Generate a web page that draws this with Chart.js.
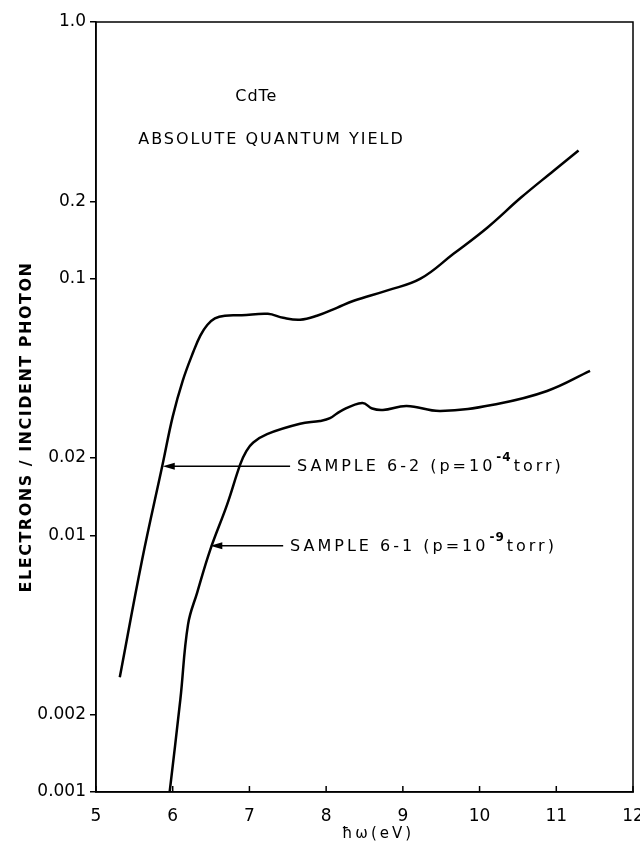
<!DOCTYPE html>
<html>
<head>
<meta charset="utf-8">
<script src="https://cdn.jsdelivr.net/npm/chart.js@4.4.0/dist/chart.umd.min.js"></script>
<style>
  html, body { margin: 0; padding: 0; background: #fff; }
  canvas { display: block; }
</style>
</head>
<body>
<canvas id="yieldChart" width="640" height="846"></canvas>
<script>
// Sample 6-2 (p = 1e-4 torr)
const energy62 = [5.31, 5.6, 5.87, 6.0, 6.13, 6.27, 6.36, 6.45, 6.55, 6.68, 6.9, 7.24, 7.44, 7.66, 7.88, 8.14, 8.36, 8.8, 9.23, 9.66, 10.1, 10.54, 10.97, 11.29];
const yield62 = [0.0028, 0.008, 0.019, 0.029, 0.040, 0.052, 0.060, 0.066, 0.070, 0.0717, 0.072, 0.073, 0.0704, 0.0692, 0.0717, 0.077, 0.082, 0.090, 0.100, 0.125, 0.158, 0.207, 0.264, 0.316];

// Sample 6-1 (p = 1e-9 torr)
const energy61 = [5.96, 6.1, 6.2, 6.32, 6.49, 6.71, 6.88, 6.96, 7.05, 7.23, 7.66, 7.92, 8.05, 8.19, 8.47, 8.6, 8.74, 9.05, 9.49, 10.23, 10.88, 11.44];
const yield61 = [0.001, 0.0023, 0.0045, 0.006, 0.0088, 0.0132, 0.0189, 0.0213, 0.023, 0.0248, 0.0272, 0.0279, 0.0286, 0.0305, 0.0328, 0.0312, 0.0308, 0.0319, 0.0305, 0.0325, 0.0365, 0.0437];

const xTicks = [5, 6, 7, 8, 9, 10, 11, 12];
const yTicks = [0.001, 0.002, 0.01, 0.02, 0.1, 0.2, 1.0];
const yTickLabels = ['0.001', '0.002', '0.01', '0.02', '0.1', '0.2', '1.0'];

const FONT = '"DejaVu Sans", sans-serif';

// labels with arrows, placed in data coordinates
const notes = [
    { text: 'SAMPLE 6-2 (p=10', sup: '-4', tail: 'torr)', tipX: 5.87, tipY: 0.0186, lineX: 7.53, textX: 7.62 },
    { text: 'SAMPLE 6-1 (p=10', sup: '-9', tail: 'torr)', tipX: 6.49, tipY: 0.0091, lineX: 7.44, textX: 7.53 }
];

const toPoints = (xs, ys) => xs.map((x, i) => ({ x: x, y: ys[i] }));

const frameAndText = {
    id: 'frameAndText',
    afterDraw(chart) {
        const { ctx, chartArea: a, scales: { x, y } } = chart;
        ctx.save();
        ctx.strokeStyle = '#000';
        ctx.fillStyle = '#000';
        ctx.lineWidth = 1.5;
        ctx.strokeRect(a.left, a.top, a.right - a.left, a.bottom - a.top);

        // inward ticks on the energy axis
        xTicks.forEach(v => {
            const px = x.getPixelForValue(v);
            ctx.beginPath();
            ctx.moveTo(px, a.bottom);
            ctx.lineTo(px, a.bottom - 6);
            ctx.stroke();
        });

        ctx.textBaseline = 'middle';
        ctx.font = '16px ' + FONT;
        ctx.textAlign = 'center';
        ctx.letterSpacing = '1px';
        ctx.fillText('CdTe', x.getPixelForValue(7.09), y.getPixelForValue(0.509));
        ctx.textAlign = 'left';
        ctx.letterSpacing = '2px';
        ctx.fillText('ABSOLUTE QUANTUM YIELD', x.getPixelForValue(5.55), y.getPixelForValue(0.346));

        notes.forEach(n => {
            const tx = x.getPixelForValue(n.tipX);
            const ty = y.getPixelForValue(n.tipY);
            const lx = x.getPixelForValue(n.lineX);
            ctx.lineWidth = 1.5;
            ctx.beginPath();
            ctx.moveTo(lx, ty);
            ctx.lineTo(tx + 8, ty);
            ctx.stroke();
            ctx.beginPath();
            ctx.moveTo(tx, ty);
            ctx.lineTo(tx + 12, ty - 3.5);
            ctx.lineTo(tx + 12, ty + 3.5);
            ctx.closePath();
            ctx.fill();

            let px = x.getPixelForValue(n.textX);
            ctx.letterSpacing = '3px';
            ctx.font = '16px ' + FONT;
            ctx.fillText(n.text, px, ty + 1);
            px += ctx.measureText(n.text).width + 1;
            ctx.letterSpacing = '1px';
            ctx.font = 'bold 12px ' + FONT;
            ctx.fillText(n.sup, px, ty - 8);
            px += ctx.measureText(n.sup).width + 2;
            ctx.letterSpacing = '3px';
            ctx.font = '16px ' + FONT;
            ctx.fillText(n.tail, px, ty + 1);
        });

        // axis titles
        ctx.font = '15px ' + FONT;
        ctx.letterSpacing = '3px';
        ctx.textAlign = 'center';
        ctx.fillText('\u0127\u03c9(eV)', 378, 834);
        ctx.font = 'bold 16px ' + FONT;
        ctx.letterSpacing = '1.5px';
        ctx.translate(27, 427);
        ctx.rotate(-Math.PI / 2);
        ctx.fillText('ELECTRONS / INCIDENT PHOTON', 0, 0);
        ctx.restore();
    }
};

const ctx = document.getElementById('yieldChart').getContext('2d');
new Chart(ctx, {
    type: 'line',
    data: {
        datasets: [
            {
                label: 'Sample 6-2',
                data: toPoints(energy62, yield62),
                borderColor: '#000',
                borderWidth: 2.5,
                pointRadius: 0,
                tension: 0.4,
                fill: false
            },
            {
                label: 'Sample 6-1',
                data: toPoints(energy61, yield61),
                borderColor: '#000',
                borderWidth: 2.5,
                pointRadius: 0,
                tension: 0.4,
                fill: false
            }
        ]
    },
    options: {
        responsive: false,
        animation: false,
        layout: { padding: { top: 22, right: 7, left: 0, bottom: 0 } },
        plugins: {
            legend: { display: false },
            tooltip: { enabled: false }
        },
        scales: {
            x: {
                type: 'linear',
                min: 5,
                max: 12,
                afterBuildTicks: (scale) => { scale.ticks = xTicks.map(v => ({ value: v })); },
                afterFit: (scale) => {
                    scale.height = 54;
                    scale.paddingLeft = 0;
                    scale.paddingRight = 0;
                },
                grid: { display: false },
                border: { display: true, color: '#000', width: 1.5 },
                ticks: {
                    color: '#000',
                    padding: 6,
                    maxRotation: 0,
                    font: { family: FONT, size: 17 }
                }
            },
            y: {
                type: 'logarithmic',
                min: 0.001,
                max: 1.0,
                afterBuildTicks: (scale) => { scale.ticks = yTicks.map(v => ({ value: v })); },
                afterFit: (scale) => {
                    scale.width = 96;
                    scale.paddingTop = 0;
                    scale.paddingBottom = 0;
                },
                grid: {
                    display: true,
                    drawOnChartArea: false,
                    tickLength: 6,
                    color: '#000',
                    lineWidth: 1.5
                },
                border: { display: true, color: '#000', width: 1.5 },
                ticks: {
                    color: '#000',
                    padding: 4,
                    font: { family: FONT, size: 17 },
                    callback: (value) => yTickLabels[yTicks.indexOf(value)]
                }
            }
        }
    },
    plugins: [frameAndText]
});
</script>
</body>
</html>
